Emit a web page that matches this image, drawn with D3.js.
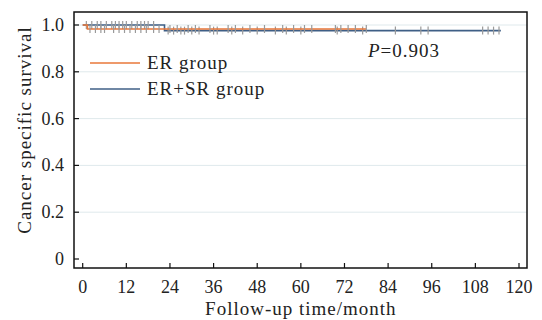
<!DOCTYPE html>
<html>
<head>
<meta charset="utf-8">
<script src="https://cdn.jsdelivr.net/npm/d3@7"></script>
<style>
  body { margin: 0; background: #fff; }
  text { font-family: "Liberation Serif", "Times New Roman", serif; fill: #222; }
  .lbl { font-size: 19px; letter-spacing: 1px; }
</style>
</head>
<body>
<div id="graphicContainer"></div>
<script>
// survival steps: [month, survival]
var erSteps = [[0, 1], [1.3, 0.983], [78, 0.983]]
var ersrSteps = [[0, 1], [22.5, 0.976], [115, 0.976]]

// censored times (months)
var erCensor = [2, 3.5, 5, 6, 8.5, 10, 11.5, 13, 14.5, 16, 17.5, 19.5, 21,
  24, 26, 29, 31, 35, 40, 42, 46, 50, 55, 58, 61, 63, 69.5, 71, 73, 75, 78]
var ersrCensor = [1, 2.5, 4, 5, 6.5, 8, 9, 10, 11, 12, 13.5, 15, 16, 17, 18, 19.5,
  23.5, 25, 27, 28, 30, 32, 36, 37, 41, 44, 48, 53, 56, 60, 70, 77, 86, 93, 95, 110, 111.5, 113, 114.5]

var xTicks = [0, 12, 24, 36, 48, 60, 72, 84, 96, 108, 120]
var yTicks = [0, 0.2, 0.4, 0.6, 0.8, 1.0]
var gridTicks = [0.2, 0.4, 0.6, 0.8, 1.0]

var width = 542, height = 320
var box = { left: 74, right: 527, top: 12, bottom: 268 }

var svg = d3.select("#graphicContainer").append("svg")
  .attr("width", width).attr("height", height)

var x = d3.scaleLinear().domain([0, 120]).range([82.7, 519])
var y = d3.scaleLinear().domain([0, 1]).range([259, 25])

// gridlines
svg.selectAll(".grid").data(gridTicks).enter().append("line")
  .attr("x1", box.left).attr("x2", box.right)
  .attr("y1", d => y(d)).attr("y2", d => y(d))
  .attr("stroke", "#dfe9ec").attr("stroke-width", 1)

// frame
svg.append("rect")
  .attr("x", box.left).attr("y", box.top)
  .attr("width", box.right - box.left).attr("height", box.bottom - box.top)
  .attr("fill", "none").attr("stroke", "#111").attr("stroke-width", 1.5)

// x ticks (inward)
svg.selectAll(".xt").data(xTicks).enter().append("line")
  .attr("x1", d => x(d)).attr("x2", d => x(d))
  .attr("y1", box.bottom).attr("y2", box.bottom - 5)
  .attr("stroke", "#111").attr("stroke-width", 1.2)
svg.selectAll(".xl").data(xTicks).enter().append("text")
  .attr("x", d => x(d)).attr("y", 293)
  .attr("text-anchor", "middle").attr("font-size", 18)
  .text(d => d)

// y ticks (inward)
svg.selectAll(".yt").data(yTicks).enter().append("line")
  .attr("x1", box.left).attr("x2", box.left + 5)
  .attr("y1", d => y(d)).attr("y2", d => y(d))
  .attr("stroke", "#111").attr("stroke-width", 1.2)
svg.selectAll(".yl").data(yTicks).enter().append("text")
  .attr("x", 64).attr("y", d => y(d) + 6)
  .attr("text-anchor", "end").attr("font-size", 18)
  .text(d => d === 0 ? "0" : d3.format(".1f")(d))

// axis titles
svg.append("text").attr("class", "lbl")
  .attr("x", (x(0) + x(120)) / 2).attr("y", 315)
  .attr("text-anchor", "middle")
  .text("Follow-up time/month")
svg.append("text").attr("class", "lbl")
  .attr("transform", "translate(31," + 130 + ") rotate(-90)")
  .attr("text-anchor", "middle")
  .text("Cancer specific survival")

var line = d3.line().x(d => x(d[0])).y(d => y(d[1])).curve(d3.curveStepAfter)

function survAt(steps, t) {
  var s = steps[0][1]
  steps.forEach(function (p) { if (p[0] <= t) s = p[1] })
  return s
}

function drawGroup(steps, censor, color) {
  svg.append("path").datum(steps).attr("d", line)
    .attr("fill", "none").attr("stroke", color).attr("stroke-width", 1.6)
  svg.selectAll(null).data(censor).enter().append("line")
    .attr("x1", d => x(d)).attr("x2", d => x(d))
    .attr("y1", d => y(survAt(steps, d)) - 4)
    .attr("y2", d => y(survAt(steps, d)) + 4)
    .attr("stroke", "#9a9a9a").attr("stroke-width", 1.2)
}

drawGroup(ersrSteps, ersrCensor, "#3f5f86")
drawGroup(erSteps, erCensor, "#e8773a")

// legend
var legend = [
  { label: "ER group", color: "#e8773a", y: 63 },
  { label: "ER+SR group", color: "#3f5f86", y: 89 }
]
legend.forEach(function (l) {
  svg.append("line").attr("x1", 90).attr("x2", 140)
    .attr("y1", l.y).attr("y2", l.y)
    .attr("stroke", l.color).attr("stroke-width", 1.6)
  svg.append("text").attr("class", "lbl").attr("x", 147).attr("y", l.y + 6)
    .text(l.label)
})

// p value
var p = svg.append("text").attr("class", "lbl").attr("x", 368).attr("y", 57)
p.append("tspan").attr("font-style", "italic").text("P")
p.append("tspan").text("=0.903")
</script>
</body>
</html>
